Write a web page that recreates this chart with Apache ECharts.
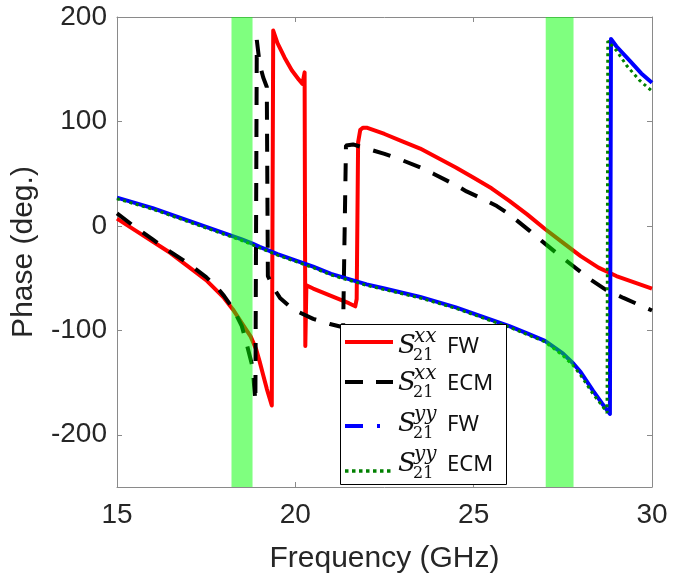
<!DOCTYPE html>
<html>
<head>
<meta charset="utf-8">
<script src="https://cdn.jsdelivr.net/npm/echarts@6/dist/echarts.min.js"></script>
<style>
  html, body { margin: 0; padding: 0; background: #fff; }
  #chart { width: 693px; height: 580px; }
</style>
</head>
<body>
<div id="chart"></div>
<script>
// tick labels
const freqTicks = [15, 20, 25, 30];
const phaseTicks = [-200, -100, 0, 100, 200];

// shaded bands (GHz)
const bands = [[18.21, 18.80], [27.02, 27.80]];

// S21 xx, full wave
const s21xxFW = [
  [15, 7], [15.5, -4], [16, -15], [16.5, -26], [17, -39], [17.5, -52], [18, -69],
  [18.25, -80], [18.5, -93], [18.75, -106], [18.9, -118], [19.0, -130], [19.1, -143],
  [19.2, -156], [19.34, -172], [19.38, 187], [19.5, 175], [19.7, 161], [19.9, 149],
  [20.1, 140], [20.2, 136], [20.26, 147], [20.28, -115], [20.31, -57], [20.5, -60],
  [21.0, -67], [21.5, -74], [21.68, -77], [21.72, -70], [21.76, 80], [21.82, 92],
  [21.9, 94], [22.0, 94], [22.5, 88], [23, 81], [23.5, 74], [24, 65], [24.5, 56],
  [25, 46], [25.5, 36], [26, 24], [26.5, 11], [27, -3], [27.5, -16], [28, -29],
  [28.5, -40], [29, -48], [29.5, -54], [30, -60]
];

// S21 xx, equivalent circuit model
const s21xxECM = [
  [15, 12], [15.5, -1], [16, -13], [16.5, -25], [17, -36], [17.5, -49], [17.83, -60],
  [18, -67], [18.25, -79], [18.5, -96], [18.65, -115], [18.8, -135], [18.88, -168],
  [18.92, 178], [19.0, 155], [19.1, 142], [19.2, 133], [19.23, -48], [19.4, -60],
  [19.57, -69], [19.94, -80], [20.5, -89], [20.97, -94], [21.34, -97], [21.39, -98],
  [21.42, 77], [21.62, 78], [22.0, 74], [22.5, 69], [22.84, 65], [23.5, 56],
  [23.87, 50], [24.5, 39], [24.8, 33], [25.3, 25], [25.65, 19], [26.0, 11],
  [26.58, -5], [27, -17], [27.47, -30], [28, -44], [28.26, -51], [28.7, -61],
  [29.2, -69], [29.6, -75], [30, -81]
];

// S21 yy, full wave
const s21yyFW = [
  [15, 27], [15.5, 22], [16, 17], [16.5, 11], [17, 5], [17.5, -1], [18, -7],
  [18.5, -13], [18.8, -17], [19, -20], [19.5, -27], [20, -33], [20.5, -39],
  [21, -46], [21.5, -51], [22, -56], [22.5, -60], [23, -64], [23.5, -68], [24, -73],
  [24.5, -78], [25, -84], [25.5, -90], [26, -96], [26.5, -103], [27, -110],
  [27.5, -122], [27.8, -132], [28, -140], [28.35, -158], [28.6, -170], [28.82, -180],
  [28.85, 179], [29, 172], [29.38, 158], [29.7, 146], [30, 137]
];

// S21 yy, equivalent circuit model
const s21yyECM = [
  [15, 26], [15.5, 21], [16, 16], [16.5, 10], [17, 4], [17.5, -2], [18, -8],
  [18.5, -14], [19, -21], [19.5, -28], [20, -34], [20.5, -40], [21, -47],
  [21.5, -52], [22, -57], [22.5, -61], [23, -65], [23.5, -69], [24, -74],
  [24.5, -79], [25, -85], [25.5, -91], [26, -97], [26.5, -104], [27, -111],
  [27.5, -124], [27.8, -134], [28, -143], [28.35, -161], [28.6, -172], [28.74, -179],
  [28.76, 177], [29, 168], [29.3, 153], [29.66, 139], [30, 129]
];

const chartInit = echarts.init(document.getElementById("chart"));

const tickFont = {
  fontFamily: "Liberation Sans",
  fontSize: 28,
  color: "#262626",
};
const axisGray = "#8a8a8a";

const legendRows = [
  { y: 342, color: "#ff0000", dash: null, sup: "xx", label: "FW", width: 4 },
  { y: 382, color: "#000000", dash: [18, 13], sup: "xx", label: "ECM", width: 4 },
  { y: 426, color: "#0000ff", dash: [18, 14, 3, 14], sup: "yy", label: "FW", width: 4 },
  { y: 471, color: "#008000", dash: [3.5, 3.5], sup: "yy", label: "ECM", width: 3.5 },
];
const rowTextY = [346, 383, 424, 464];

const txt = (text, x, y, font) => ({
  type: "text",
  z: 101,
  style: {
    text: text,
    x: x,
    y: y,
    fill: "#111",
    font: font,
    verticalAlign: "middle",
  },
});

const graphics = [
  {
    type: "rect",
    z: 100,
    shape: { x: 340.5, y: 324.5, width: 166, height: 160 },
    style: { fill: "#fff", stroke: "#000", lineWidth: 1 },
  },
];
legendRows.forEach((r, i) => {
  const ty = rowTextY[i];
  graphics.push({
    type: "line",
    z: 101,
    shape: { x1: 345, y1: r.y, x2: 393, y2: r.y },
    style: { stroke: r.color, lineWidth: r.width, lineDash: r.dash, lineCap: "butt" },
  });
  graphics.push(txt("S", 398, ty, "italic 26px DejaVu Serif"));
  graphics.push(txt("21", 413, ty + 10, "16px DejaVu Serif"));
  graphics.push(txt(r.sup, 414, ty - 9, "italic 20px DejaVu Serif"));
  graphics.push(txt(r.label, 447, ty + 1, "normal 22px Noto Sans"));
});

const option = {
  animation: false,
  backgroundColor: "#fff",
  grid: { left: 117, right: 41, top: 17, bottom: 93 },
  xAxis: [
    {
      type: "value",
      min: 15,
      max: 30,
      interval: 5,
      name: "Frequency (GHz)",
      nameLocation: "middle",
      nameGap: 57,
      nameTextStyle: { fontFamily: "Liberation Sans", fontSize: 30, color: "#262626" },
      axisLine: { show: true, onZero: false, lineStyle: { color: axisGray, width: 1 } },
      axisTick: { show: true, inside: true, length: 5, lineStyle: { color: axisGray } },
      axisLabel: { ...tickFont, margin: 14, customValues: freqTicks },
      splitLine: { show: false },
    },
    {
      type: "value",
      position: "top",
      min: 15,
      max: 30,
      interval: 5,
      axisLine: { show: true, onZero: false, lineStyle: { color: axisGray, width: 1 } },
      axisTick: { show: true, inside: true, length: 5, lineStyle: { color: axisGray } },
      axisLabel: { show: false },
      splitLine: { show: false },
    },
  ],
  yAxis: [
    {
      type: "value",
      min: -250,
      max: 200,
      name: "Phase (deg.)",
      nameLocation: "middle",
      nameGap: 78,
      nameTextStyle: { fontFamily: "Liberation Sans", fontSize: 30, color: "#262626" },
      axisLine: { show: true, onZero: false, lineStyle: { color: axisGray, width: 1 } },
      axisTick: { show: true, inside: true, length: 5, lineStyle: { color: axisGray }, customValues: phaseTicks },
      axisLabel: { ...tickFont, margin: 10, customValues: phaseTicks },
      splitLine: { show: false },
    },
    {
      type: "value",
      position: "right",
      min: -250,
      max: 200,
      axisLine: { show: true, onZero: false, lineStyle: { color: axisGray, width: 1 } },
      axisTick: { show: true, inside: true, length: 5, lineStyle: { color: axisGray }, customValues: phaseTicks },
      axisLabel: { show: false },
      splitLine: { show: false },
    },
  ],
  graphic: graphics,
  series: [
    {
      name: "S21xx FW",
      type: "line",
      symbol: "none",
      z: 2,
      data: s21xxFW,
      lineStyle: { color: "#ff0000", width: 4, join: "round" },
    },
    {
      name: "S21xx ECM",
      type: "line",
      symbol: "none",
      z: 3,
      data: s21xxECM,
      lineStyle: { color: "#000000", width: 4, type: [18, 14], cap: "butt" },
    },
    {
      name: "S21yy FW",
      type: "line",
      symbol: "none",
      z: 4,
      data: s21yyFW,
      lineStyle: { color: "#0000ff", width: 4, join: "round" },
    },
    {
      name: "S21yy ECM",
      type: "line",
      symbol: "none",
      z: 5,
      data: s21yyECM,
      lineStyle: { color: "#008000", width: 3, type: [3, 3.5], cap: "butt" },
    },
    {
      name: "bands",
      type: "custom",
      z: 10,
      silent: true,
      data: bands,
      renderItem: (params, api) => {
        const p0 = api.coord([api.value(0), 200]);
        const p1 = api.coord([api.value(1), -250]);
        return {
          type: "rect",
          shape: { x: p0[0], y: p0[1], width: p1[0] - p0[0], height: p1[1] - p0[1] },
          style: { fill: "rgba(0,255,0,0.5)" },
        };
      },
    },
  ],
};
chartInit.setOption(option, true);
</script>
</body>
</html>
